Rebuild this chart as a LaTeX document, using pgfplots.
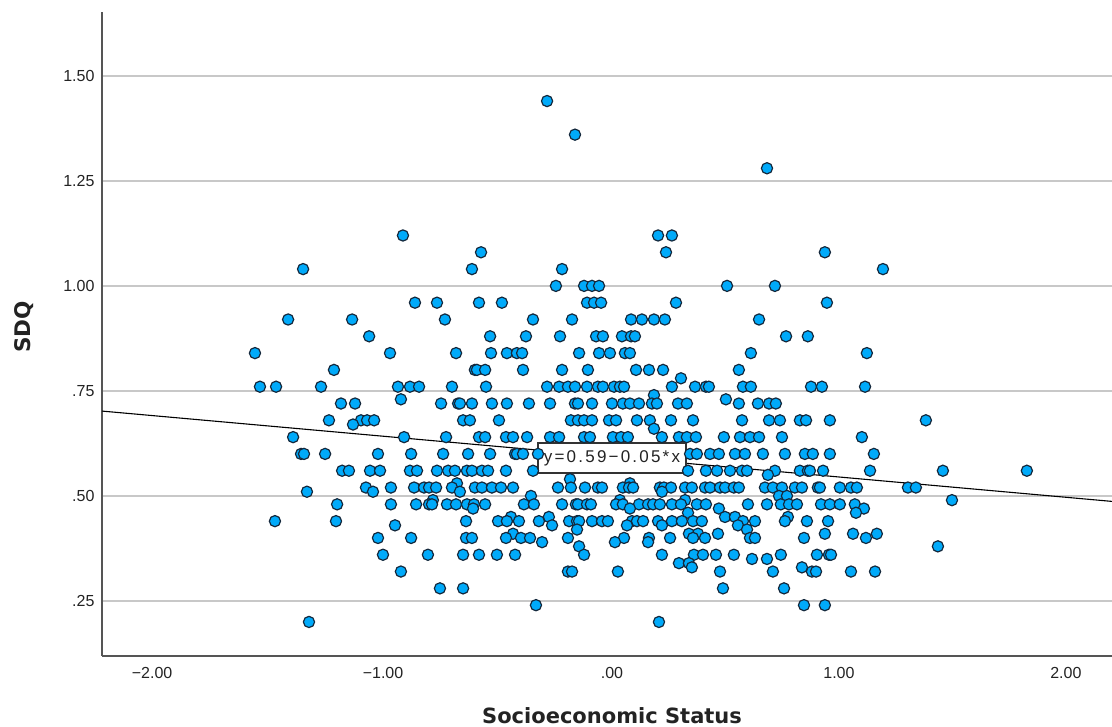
\documentclass[border=0pt]{standalone}
\usepackage{fontspec}
\setmainfont{Liberation Sans}
\newfontfamily\titlefont{DejaVu Sans}
\usepackage{pgfplots}
\pgfplotsset{compat=1.18}
\definecolor{ptfill}{RGB}{0,170,250}
\definecolor{ptedge}{RGB}{20,40,60}
\definecolor{gridc}{RGB}{200,200,200}
\definecolor{axisc}{RGB}{85,85,85}
\definecolor{textc}{RGB}{35,35,35}
\begin{document}
\begin{tikzpicture}[x=1pt,y=1pt]
\path[use as bounding box] (0,0) rectangle (1112,727);
\begin{axis}[
  at={(102pt,71pt)},anchor=south west,
  scale only axis,width=1010pt,height=644pt,
  xmin=-2.247,xmax=2.203,ymin=0.119,ymax=1.652,
  axis x line=bottom,axis y line=left,
  axis line style={color=axisc,line width=1.6pt,-},
  xtick={-2,-1,0,1,2},
  xticklabels={\hspace*{-12pt}−2.00,\hspace*{-4pt}−1.00,.00,1.00,2.00},
  ytick={0.25,0.5,0.75,1,1.25,1.5},
  yticklabels={.25,.50,.75,1.00,1.25,1.50},
  major tick length=0pt,
  ymajorgrids,
  grid style={color=gridc,line width=1.8pt},
  tick label style={font=\fontsize{16}{18}\selectfont,text=textc},
  xticklabel style={yshift=-8pt},
  yticklabel style={xshift=-4pt},
  xlabel={\textbf{Socioeconomic Status}},
  ylabel={\textbf{SDQ}},
  xlabel style={font=\titlefont\fontsize{21}{24}\selectfont,text=textc,at={(axis description cs:0.505,0)},anchor=center,yshift=-60pt},
  ylabel style={font=\titlefont\fontsize{21.5}{24}\selectfont,text=textc,at={(axis description cs:-0.0772,0.511)},anchor=center},
]
\addplot[black,line width=1.1pt] coordinates {(-2.247,0.702) (2.203,0.487)};
\addplot[only marks,mark=*,mark size=5.6pt,mark options={fill=ptfill,draw=ptedge,line width=1.2pt}] coordinates {
(-.286,1.44)(-.163,1.36)(.683,1.28)
(-.921,1.12)(.203,1.12)(.264,1.12)
(-.577,1.08)(.238,1.08)(.938,1.08)
(-1.361,1.04)(-.617,1.04)(-.220,1.04)(1.194,1.04)
(-.247,1)(-.123,1)(-.088,1)(-.057,1)(.507,1)(.718,1)
(-.868,.96)(-.771,.96)(-.586,.96)(-.485,.96)(-.110,.96)(-.079,.96)(-.048,.96)(.282,.96)(.947,.96)
(-1.427,.92)(-1.145,.92)(-.736,.92)(-.348,.92)(-.176,.92)(.084,.92)(.132,.92)(.185,.92)(.233,.92)(.648,.92)
(-1.070,.88)(-.537,.88)(-.379,.88)(-.229,.88)(-.070,.88)(-.040,.88)(.044,.88)(.084,.88)(.101,.88)(.767,.88)(.863,.88)
(-1.573,.84)(-.978,.84)(-.687,.84)(-.533,.84)(-.463,.84)(-.419,.84)(-.396,.84)(-.145,.84)(-.057,.84)(-.009,.84)(.057,.84)(.079,.84)(.612,.84)(1.123,.84)
(-1.225,.80)(-.604,.80)(-.595,.80)(-.559,.80)(-.392,.80)(-.220,.80)(-.106,.80)(.106,.80)(.163,.80)(.225,.80)(.559,.80)
(.304,.78)
(-1.551,.76)(-1.480,.76)(-1.282,.76)(-.943,.76)(-.890,.76)(-.850,.76)(-.705,.76)(-.555,.76)(-.286,.76)(-.233,.76)(-.194,.76)(-.163,.76)(-.110,.76)(-.062,.76)(-.040,.76)(.009,.76)(.035,.76)(.053,.76)(.264,.76)(.366,.76)(.414,.76)(.427,.76)(.577,.76)(.612,.76)(.877,.76)(.925,.76)(1.115,.76)
(.185,.74)
(-.930,.73)(.502,.73)
(-1.194,.72)(-1.132,.72)(-.753,.72)(-.678,.72)(-.670,.72)(-.617,.72)(-.529,.72)(-.463,.72)(-.366,.72)(-.273,.72)(-.163,.72)(-.150,.72)(-.088,.72)(0,.72)(.048,.72)(.079,.72)(.119,.72)(.176,.72)(.198,.72)(.291,.72)(.330,.72)(.559,.72)(.643,.72)(.692,.72)(.722,.72)
(-1.247,.68)(-1.106,.68)(-1.079,.68)(-1.048,.68)(-.656,.68)(-.626,.68)(-.498,.68)(-.181,.68)(-.150,.68)(-.123,.68)(-.088,.68)(-.013,.68)(.018,.68)(.110,.68)(.167,.68)(.260,.68)(.357,.68)(.573,.68)(.692,.68)(.740,.68)(.828,.68)(.855,.68)(.960,.68)(1.383,.68)
(-1.141,.67)(.185,.66)
(-1.405,.64)(-.916,.64)(-.731,.64)(-.586,.64)(-.559,.64)(-.467,.64)(-.436,.64)(-.374,.64)(-.273,.64)(-.233,.64)(-.123,.64)(-.097,.64)(.004,.64)(.040,.64)(.070,.64)(.220,.64)(.295,.64)(.330,.64)(.370,.64)(.493,.64)(.564,.64)(.608,.64)(.648,.64)(.749,.64)(1.101,.64)
(-1.370,.60)(-1.357,.60)(-1.264,.60)(-1.031,.60)(-.885,.60)(-.744,.60)(-.634,.60)(-.537,.60)(-.427,.60)(-.419,.60)(-.392,.60)(-.326,.60)(.344,.60)(.374,.60)(.432,.60)(.471,.60)(.542,.60)(.586,.60)(.665,.60)(.762,.60)(.850,.60)(.885,.60)(.960,.60)(1.154,.60)
(-1.189,.56)(-1.159,.56)(-1.066,.56)(-1.022,.56)(-.890,.56)(-.859,.56)(-.771,.56)(-.722,.56)(-.692,.56)(-.639,.56)(-.617,.56)(-.573,.56)(-.546,.56)(-.467,.56)(-.348,.56)(.335,.56)(.414,.56)(.463,.56)(.520,.56)(.573,.56)(.595,.56)(.718,.56)(.828,.56)(.863,.56)(.872,.56)(.930,.56)(1.137,.56)(1.458,.56)(1.828,.56)
(.687,.55)(-.185,.54)(-.683,.53)(.079,.53)
(-1.084,.52)(-.974,.52)(-.872,.52)(-.828,.52)(-.806,.52)(-.775,.52)(-.705,.52)(-.604,.52)(-.573,.52)(-.529,.52)(-.489,.52)(-.436,.52)(-.238,.52)(-.181,.52)(-.119,.52)(-.062,.52)(-.044,.52)(.048,.52)(.075,.52)(.093,.52)(.211,.52)(.229,.52)(.260,.52)(.322,.52)(.352,.52)(.410,.52)(.432,.52)(.476,.52)(.498,.52)(.537,.52)(.559,.52)(.674,.52)(.709,.52)(.749,.52)(.806,.52)(.837,.52)(.907,.52)(.916,.52)(1.004,.52)(1.053,.52)(1.079,.52)(1.304,.52)(1.339,.52)
(-1.344,.51)(-1.053,.51)(-.670,.51)(.220,.51)
(-.357,.50)(.736,.50)(.771,.50)
(-.789,.49)(.035,.49)(.322,.49)(1.498,.49)
(-1.211,.48)(-.974,.48)(-.863,.48)(-.806,.48)(-.793,.48)(-.727,.48)(-.687,.48)(-.639,.48)(-.608,.48)(-.559,.48)(-.388,.48)(-.344,.48)(-.220,.48)(-.159,.48)(-.150,.48)(-.110,.48)(-.093,.48)(.018,.48)(.048,.48)(.119,.48)(.159,.48)(.181,.48)(.211,.48)(.264,.48)(.304,.48)(.374,.48)(.414,.48)(.599,.48)(.683,.48)(.744,.48)(.780,.48)(.815,.48)(.921,.48)(.960,.48)(1.004,.48)(1.070,.48)
(-.612,.47)(.079,.47)(.471,.47)(1.110,.47)
(.335,.46)(1.075,.46)
(-.445,.45)(-.278,.45)(.498,.45)(.542,.45)(.775,.45)
(-1.485,.44)(-1.216,.44)(-.643,.44)(-.502,.44)(-.463,.44)(-.410,.44)(-.322,.44)(-.189,.44)(-.154,.44)(-.145,.44)(-.088,.44)(-.044,.44)(-.018,.44)(.088,.44)(.110,.44)(.137,.44)(.203,.44)(.264,.44)(.308,.44)(.357,.44)(.396,.44)(.577,.44)(.630,.44)(.762,.44)(.859,.44)(.952,.44)
(-.956,.43)(-.264,.43)(.066,.43)(.220,.43)(.555,.43)
(-.154,.42)(.595,.42)
(-.436,.41)(.339,.41)(.379,.41)(.467,.41)(.938,.41)(1.062,.41)(1.167,.41)
(-1.031,.40)(-.885,.40)(-.643,.40)(-.617,.40)(-.467,.40)(-.401,.40)(-.361,.40)(-.194,.40)(.053,.40)(.163,.40)(.256,.40)(.357,.40)(.410,.40)(.608,.40)(.630,.40)(.846,.40)(1.119,.40)
(-.308,.39)(.013,.39)(.159,.39)
(-.145,.38)(1.436,.38)
(-1.009,.36)(-.811,.36)(-.656,.36)(-.586,.36)(-.507,.36)(-.427,.36)(-.123,.36)(.220,.36)(.361,.36)(.401,.36)(.458,.36)(.537,.36)(.744,.36)(.903,.36)(.956,.36)(.965,.36)
(.617,.35)(.683,.35)
(.295,.34)(.339,.34)
(.352,.33)(.837,.33)
(-.930,.32)(-.194,.32)(-.176,.32)(.026,.32)(.476,.32)(.709,.32)(.881,.32)(.899,.32)(1.053,.32)(1.159,.32)
(-.758,.28)(-.656,.28)(.489,.28)(.758,.28)
(-.335,.24)(.846,.24)(.938,.24)
(-1.335,.20)(.207,.20)
};
\node[fill=white,draw=black!80,line width=1.3pt,inner sep=0pt,minimum width=148pt,minimum height=30pt,font=\fontsize{17}{19}\selectfont\addfontfeature{LetterSpace=13},text=textc] at (axis cs:0,0.59) {y=0.59−0.05*x};
\end{axis}
\end{tikzpicture}
\end{document}
